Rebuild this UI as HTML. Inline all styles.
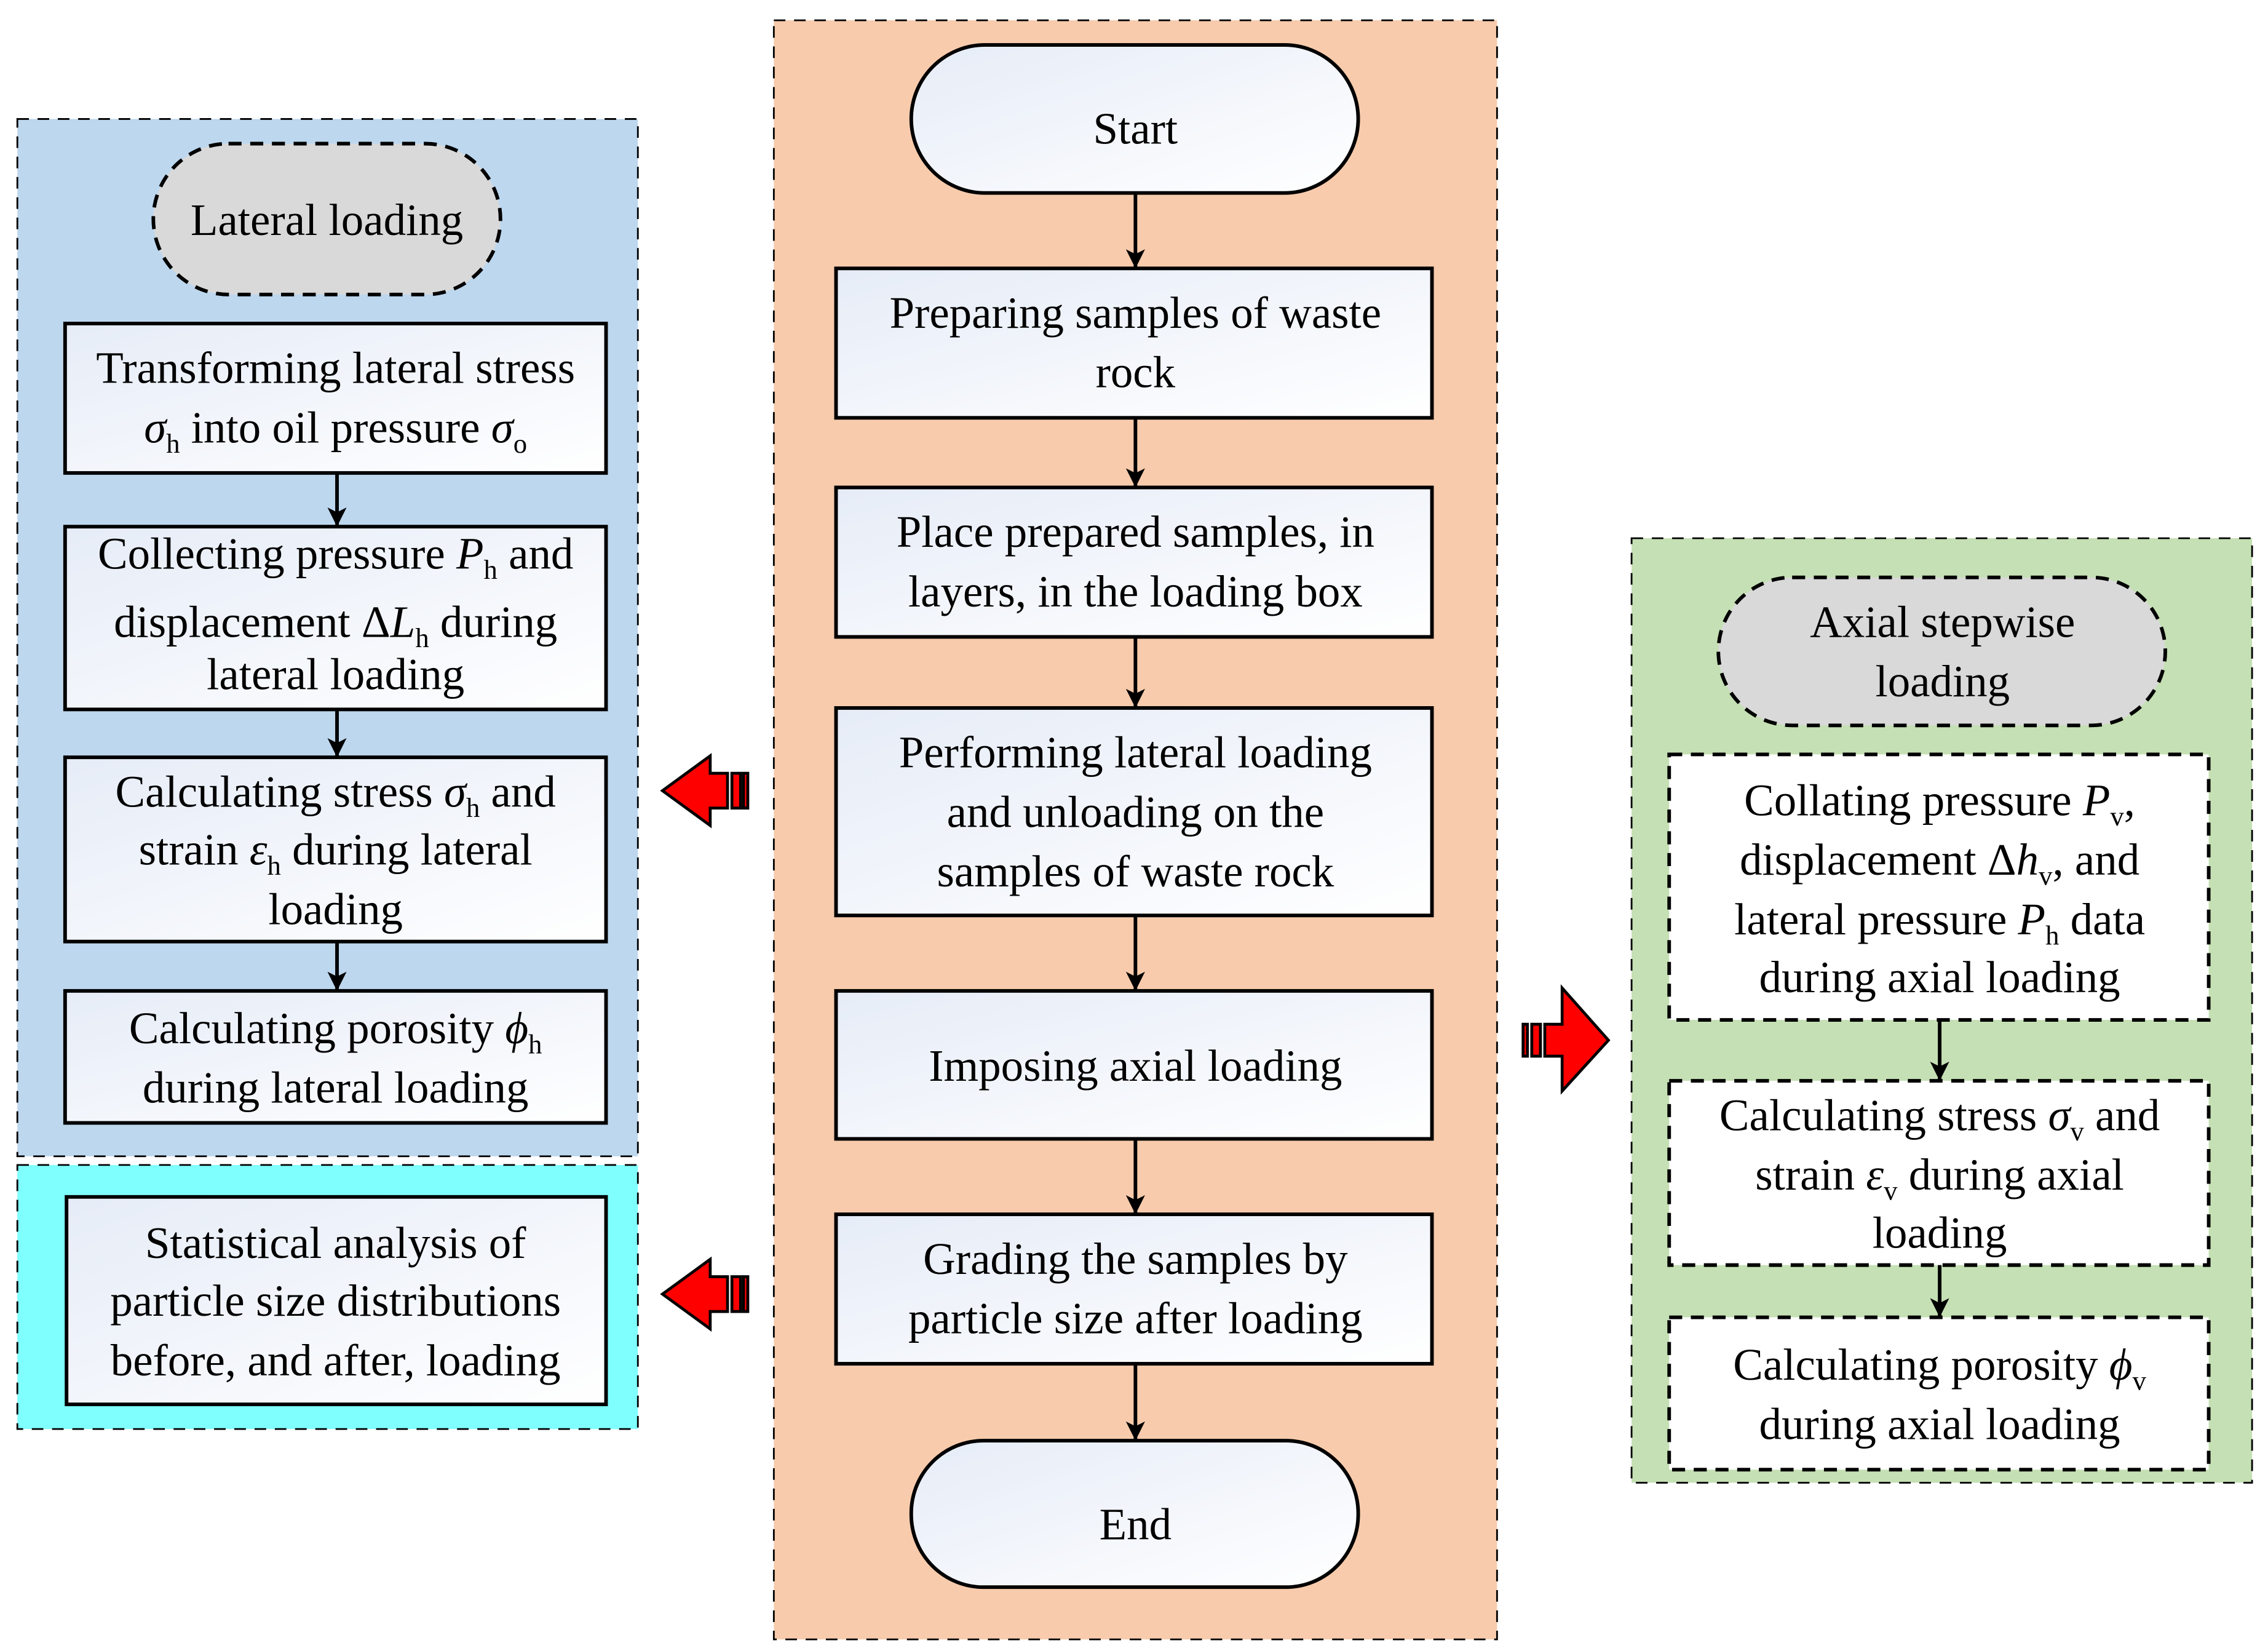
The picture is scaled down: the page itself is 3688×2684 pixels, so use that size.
<!DOCTYPE html>
<html><head><meta charset="utf-8"><style>html,body{margin:0;padding:0;background:#fff}svg{display:block}text{font-family:"Liberation Serif","Times New Roman",serif}</style></head>
<body>
<svg width="3688" height="2684" viewBox="0 0 1568 1138" preserveAspectRatio="none" xmlns="http://www.w3.org/2000/svg" font-family="'Liberation Serif', serif" font-size="31">
<defs>
<linearGradient id="g" x1="0" y1="0" x2="1" y2="1"><stop offset="0" stop-color="#e6ecf7"/><stop offset="1" stop-color="#ffffff"/></linearGradient>
<marker id="ah2" viewBox="0 0 12 20" refX="12" refY="6" markerWidth="14" markerHeight="22" markerUnits="userSpaceOnUse" orient="auto"><path d="M0,0 L12,6 L0,12 L3,6 z" fill="#000"/></marker>
</defs>
<rect width="1568" height="1138" fill="#fff"/>
<rect x="535" y="14" width="500" height="1116" fill="#F7CBAC" stroke="#000" stroke-width="1.2" stroke-dasharray="8,6"/>
<rect x="12" y="82" width="429" height="715" fill="#BDD7EE" stroke="#000" stroke-width="1.2" stroke-dasharray="8,6"/>
<rect x="12" y="803" width="429" height="182" fill="#80FFFF" stroke="#000" stroke-width="1.2" stroke-dasharray="8,6"/>
<rect x="1128" y="371" width="429" height="651" fill="#C5E0B4" stroke="#000" stroke-width="1.2" stroke-dasharray="8,6"/>

<g stroke="#000" stroke-width="2.5" fill="url(#g)">
<rect x="630" y="31" width="309" height="102" rx="51"/>
<rect x="578" y="185" width="412" height="103"/>
<rect x="578" y="336" width="412" height="103"/>
<rect x="578" y="488" width="412" height="143"/>
<rect x="578" y="683" width="412" height="102"/>
<rect x="578" y="837" width="412" height="103"/>
<rect x="630" y="993" width="309" height="101" rx="50"/>
<rect x="45" y="223" width="374" height="103"/>
<rect x="45" y="363" width="374" height="126"/>
<rect x="45" y="522" width="374" height="127"/>
<rect x="45" y="683" width="374" height="91"/>
<rect x="46" y="825" width="373" height="143"/>
</g>
<g stroke="#000" stroke-width="2.5" stroke-dasharray="9,6">
<rect x="106" y="99" width="240" height="104" rx="52" fill="#D9D9D9"/>
<rect x="1188" y="398" width="309" height="102" rx="51" fill="#D9D9D9"/>
<rect x="1154" y="520" width="373" height="183" fill="#fff"/>
<rect x="1154" y="745" width="373" height="127" fill="#fff"/>
<rect x="1154" y="908" width="373" height="105" fill="#fff"/>
</g>
<g stroke="#000" stroke-width="2.5">
<line x1="785" y1="133" x2="785" y2="185" marker-end="url(#ah2)"/>
<line x1="785" y1="288" x2="785" y2="336" marker-end="url(#ah2)"/>
<line x1="785" y1="439" x2="785" y2="488" marker-end="url(#ah2)"/>
<line x1="785" y1="631" x2="785" y2="683" marker-end="url(#ah2)"/>
<line x1="785" y1="785" x2="785" y2="837" marker-end="url(#ah2)"/>
<line x1="785" y1="940" x2="785" y2="993" marker-end="url(#ah2)"/>
<line x1="233" y1="326" x2="233" y2="363" marker-end="url(#ah2)"/>
<line x1="233" y1="489" x2="233" y2="522" marker-end="url(#ah2)"/>
<line x1="233" y1="649" x2="233" y2="683" marker-end="url(#ah2)"/>
<line x1="1341" y1="703" x2="1341" y2="745" marker-end="url(#ah2)"/>
<line x1="1341" y1="872" x2="1341" y2="908" marker-end="url(#ah2)"/>
</g>
<g stroke="#000" stroke-width="2" fill="#f00">
<path d="M458,545 L491,521 L491,533 L503,533 L503,557 L491,557 L491,569 z"/>
<rect x="506" y="533" width="6" height="24"/><rect x="514" y="533" width="3" height="24"/>
<path d="M458,892 L491,868 L491,880 L503,880 L503,904 L491,904 L491,916 z"/>
<rect x="506" y="880" width="6" height="24"/><rect x="514" y="880" width="3" height="24"/>
<path d="M1112,717 L1080,681 L1080,706 L1068,706 L1068,728 L1080,728 L1080,752 z"/>
<rect x="1059" y="706" width="6" height="22"/><rect x="1053" y="706" width="3" height="22"/>
</g>
<g text-anchor="middle" fill="#000">
<text x="785" y="99">Start</text>
<text x="785" y="226">Preparing samples of waste</text>
<text x="785" y="267">rock</text>
<text x="785" y="377">Place prepared samples, in</text>
<text x="785" y="418">layers, in the loading box</text>
<text x="785" y="529">Performing lateral loading</text>
<text x="785" y="570">and unloading on the</text>
<text x="785" y="611">samples of waste rock</text>
<text x="785" y="745">Imposing axial loading</text>
<text x="785" y="878">Grading the samples by</text>
<text x="785" y="919">particle size after loading</text>
<text x="785" y="1061">End</text>

<text x="226" y="162">Lateral loading</text>
<text x="232" y="264">Transforming lateral stress</text>
<text x="232" y="305"><tspan font-style="italic">σ</tspan><tspan font-size="19" dy="7">h</tspan><tspan dy="-7"> into oil pressure </tspan><tspan font-style="italic">σ</tspan><tspan font-size="19" dy="7">o</tspan></text>
<text x="232" y="392">Collecting pressure <tspan font-style="italic">P</tspan><tspan font-size="19" dy="7">h</tspan><tspan dy="-7"> and</tspan></text>
<text x="232" y="439">displacement Δ<tspan font-style="italic">L</tspan><tspan font-size="19" dy="7">h</tspan><tspan dy="-7">  during</tspan></text>
<text x="232" y="475">lateral loading</text>
<text x="232" y="556">Calculating stress <tspan font-style="italic">σ</tspan><tspan font-size="19" dy="7">h</tspan><tspan dy="-7"> and</tspan></text>
<text x="232" y="596">strain <tspan font-style="italic">ε</tspan><tspan font-size="19" dy="7">h</tspan><tspan dy="-7"> during lateral</tspan></text>
<text x="232" y="637">loading</text>
<text x="232" y="719">Calculating porosity <tspan font-style="italic">ϕ</tspan><tspan font-size="19" dy="7">h</tspan></text>
<text x="232" y="760">during lateral loading</text>
<text x="232" y="867">Statistical analysis of</text>
<text x="232" y="907">particle size distributions</text>
<text x="232" y="948">before, and after, loading</text>

<text x="1343" y="439">Axial stepwise</text>
<text x="1343" y="480">loading</text>
<text x="1341" y="562">Collating pressure <tspan font-style="italic">P</tspan><tspan font-size="19" dy="7">v</tspan><tspan dy="-7">,</tspan></text>
<text x="1341" y="603">displacement Δ<tspan font-style="italic">h</tspan><tspan font-size="19" dy="7">v</tspan><tspan dy="-7">, and</tspan></text>
<text x="1341" y="644">lateral pressure <tspan font-style="italic">P</tspan><tspan font-size="19" dy="7">h</tspan><tspan dy="-7"> data</tspan></text>
<text x="1341" y="684">during axial loading</text>
<text x="1341" y="779">Calculating stress <tspan font-style="italic">σ</tspan><tspan font-size="19" dy="7">v</tspan><tspan dy="-7"> and</tspan></text>
<text x="1341" y="820">strain <tspan font-style="italic">ε</tspan><tspan font-size="19" dy="7">v</tspan><tspan dy="-7"> during axial</tspan></text>
<text x="1341" y="860">loading</text>
<text x="1341" y="951">Calculating porosity <tspan font-style="italic">ϕ</tspan><tspan font-size="19" dy="7">v</tspan></text>
<text x="1341" y="992">during axial loading</text>
</g>
</svg>
</body></html>
